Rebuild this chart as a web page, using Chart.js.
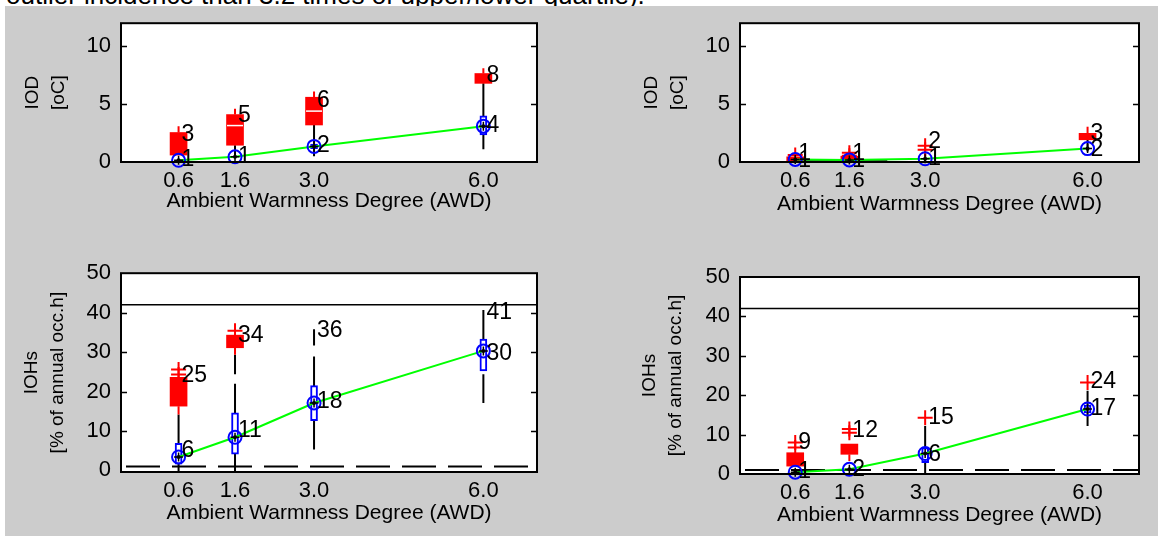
<!DOCTYPE html>
<html>
<head>
<meta charset="utf-8">
<title>IOD / IOHs vs AWD</title>
<script src="https://cdn.jsdelivr.net/npm/chart.js@4.4.0/dist/chart.umd.min.js"></script>
<style>
  body { margin: 0; width: 1158px; height: 536px; background: #fff; position: relative; overflow: hidden;
         font-family: "Liberation Sans", Arial, sans-serif; }
  #cap { position: absolute; left: 6px; top: -18px; font-size: 26px; line-height: 26px; white-space: nowrap; color: #000; }
  #bg { position: absolute; left: 5px; top: 6px; width: 1153px; height: 530px; background: #cccccc; }
  canvas { position: absolute; }
</style>
</head>
<body>
<div id="cap">outlier incidence than 3.2 times of upper/lower quartile).</div>
<div id="bg"></div>
<canvas id="tl" width="580" height="250" style="left:0;top:0"></canvas>
<canvas id="tr" width="578" height="250" style="left:580px;top:0"></canvas>
<canvas id="bl" width="580" height="286" style="left:0;top:250px"></canvas>
<canvas id="br" width="578" height="286" style="left:580px;top:250px"></canvas>
<script>
// x categories (AWD) and ticks
const awd = [0.6, 1.6, 3.0, 6.0];
const xTicks = [0.6, 1.6, 3.0, 6.0];
const iodTicks = [0, 5, 10];
const iohTicks = [0, 10, 20, 30, 40, 50];

// top left - IOD
const tlMedian = [0.15, 0.45, 1.35, 3.1];
const tlRedLow = [0.6, 1.45, 3.2, 6.8];
const tlRedHigh = [2.55, 4.1, 5.6, 7.65];
const tlRedMid = [null, 3.15, 4.4, null];
const tlRedTop = [3.1, 4.6, 6.1, 8.1];
const tlRedBottom = [null, null, null, null];
const tlPlus = [];
const tlWhiskers = [[1.6, 0.45, 1.45], [3.0, 0.5, 3.2], [6.0, 1.1, 6.8]];
const tlBlueLow = [null, null, 1.15, 2.35];
const tlBlueHigh = [null, null, 1.55, 4.0];
const tlTopAt = [2.4, 4.0, 5.3, 7.5];
const tlTopTxt = ['3', '5', '6', '8'];
const tlBotAt = [0.2, 0.45, 1.4, 3.1];
const tlBotTxt = ['1', '1', '2', '4'];

// top right - IOD
const trMedian = [0.22, 0.18, 0.28, 1.16];
const trRedLow = [0.05, 0.1, null, 1.92];
const trRedHigh = [0.45, 0.5, null, 2.48];
const trRedMid = [null, null, null, null];
const trRedTop = [null, null, null, 3.05];
const trRedBottom = [null, null, null, null];
const trPlus = [[0.6, 0.6], [1.6, 0.8], [1.6, 0.55], [3.0, 1.4], [3.0, 1.05]];
const trWhiskers = [[3.0, 0.0, 0.75], [6.0, 0.9, 1.92]];
const trFloorX = [0.6, 2.3];
const trFloorY = [0.07, 0.07];
const trBlueLow = [null, null, null, null];
const trBlueHigh = [null, null, null, null];
const trTopAt = [0.7, 0.75, 1.72, 2.43];
const trTopTxt = ['1', '1', '2', '3'];
const trBotAt = [0.1, 0.1, 0.3, 1.1];
const trBotTxt = ['1', '1', '1', '2'];

// bottom left - IOHs
const blMedian = [3.4, 8.4, 17.1, 30.3];
const blRedLow = [16.3, 31.1, null, null];
const blRedHigh = [23.6, 34.3, null, null];
const blRedMid = [null, null, null, null];
const blRedTop = [null, null, null, null];
const blRedBottom = [14.2, 29.3, null, null];
const blPlus = [[0.6, 25.6], [0.6, 24.3], [1.6, 35.4]];
const blWhiskers = [[0.6, -0.4, 14.2], [1.6, -0.4, 22.0], [1.6, 24.4, 29.3],
                    [3.0, 5.3, 28.9], [3.0, 31.7, 35.8], [6.0, 25.2, 40.7], [6.0, 17.1, 24.4]];
const blBlueLow = [1.6, 4.1, 12.6, 25.2];
const blBlueHigh = [6.9, 14.6, 21.5, 33.3];
const blTopAt = [24.0, 34.1, 35.4, 40.0];
const blTopTxt = ['25', '34', '36', '41'];
const blBotAt = [4.9, 10.0, 17.5, 29.7];
const blBotTxt = ['6', '11', '18', '30'];

// bottom right - IOHs
const brMedian = [0.45, 1.2, 5.2, 16.5];
const brRedLow = [2.0, 5.0, null, null];
const brRedHigh = [5.4, 7.6, null, null];
const brRedMid = [null, null, null, null];
const brRedTop = [null, null, null, null];
const brRedBottom = [null, 3.3, null, null];
const brPlus = [[0.6, 6.7], [0.6, 8.0], [1.6, 10.5], [1.6, 11.4], [3.0, 14.3], [6.0, 23.2]];
const brWhiskers = [[3.0, 0.0, 12.2], [6.0, 12.2, 21.1]];
const brBlueLow = [null, null, 2.9, 15.5];
const brBlueHigh = [null, null, 6.7, 17.5];
const brTopAt = [8.0, 11.1, 14.3, 23.4];
const brTopTxt = ['9', '12', '15', '24'];
const brBotAt = [0.6, 1.2, 4.8, 16.7];
const brBotTxt = ['1', '2', '6', '17'];

// reference lines (IOHs panels)
const upperRef = 42;
const lowerRef = 1;

const xMin = -0.42, xMax = 6.95;

Chart.defaults.font.family = '"Liberation Sans", Arial, sans-serif';
Chart.defaults.color = '#000';

function segs(list) {
    return list.flatMap(s => [{x: s[0], y: s[1]}, {x: s[0], y: s[2]}, {x: s[0], y: null}]);
}
function spans(lo, hi) {
    return awd.map((x, i) => [x, lo[i], hi[i]]).filter(s => s[1] != null && s[2] != null);
}
function boxes(lo, hi) {
    return spans(lo, hi).map(s => ({x: s[0], y: [s[1], s[2]]}));
}
function pts(vals) {
    return awd.map((x, i) => ({x: x, y: vals[i]})).filter(p => p.y != null);
}

const numLabels = {
    id: 'numLabels',
    afterDatasetsDraw(chart, args, opts) {
        const {ctx, scales: {x, y}} = chart;
        ctx.save();
        ctx.font = '23px "Liberation Sans", Arial, sans-serif';
        ctx.fillStyle = '#000';
        ctx.textAlign = 'left';
        ctx.textBaseline = 'middle';
        opts.items.forEach(it => ctx.fillText(it.text, x.getPixelForValue(it.x) + 3, y.getPixelForValue(it.y)));
        ctx.restore();
    }
};

const frame = {
    id: 'frame',
    beforeDraw(chart) {
        const a = chart.chartArea, ctx = chart.ctx;
        ctx.save();
        ctx.fillStyle = '#fff';
        ctx.fillRect(a.left, a.top, a.right - a.left, a.bottom - a.top);
        ctx.restore();
    },
    afterDraw(chart) {
        const a = chart.chartArea, ctx = chart.ctx, ys = chart.scales.y;
        ctx.save();
        ctx.strokeStyle = '#000';
        ctx.lineWidth = 1.5;
        ys.ticks.forEach(t => {
            const py = Math.round(ys.getPixelForValue(t.value)) + 0.5;
            if (py <= a.top + 2 || py >= a.bottom - 2) return;
            ctx.beginPath();
            ctx.moveTo(a.left, py); ctx.lineTo(a.left + 6, py);
            ctx.moveTo(a.right, py); ctx.lineTo(a.right - 6, py);
            ctx.stroke();
        });
        ctx.lineWidth = 2;
        ctx.strokeRect(a.left, a.top, a.right - a.left, a.bottom - a.top);
        ctx.restore();
    }
};

function panel(id, p) {
    const ds = [];
    if (p.refs) {
        ds.push({type: 'line', data: [{x: xMin, y: upperRef}, {x: xMax, y: upperRef}],
                 borderColor: '#000', borderWidth: 1.5, pointRadius: 0, showLine: true});
        ds.push({type: 'line', data: [{x: xMin, y: lowerRef}, {x: xMax, y: lowerRef}],
                 borderColor: '#000', borderWidth: 2, borderDash: [34, 12], borderDashOffset: -5,
                 pointRadius: 0, showLine: true});
    }
    if (p.floorX) {
        ds.push({type: 'line', data: p.floorX.map((x, i) => ({x: x, y: p.floorY[i]})),
                 borderColor: '#000', borderWidth: 2, pointRadius: 0, showLine: true});
    }
    ds.push({type: 'line', data: segs(p.whiskers), borderColor: '#000', borderWidth: 2,
             pointRadius: 0, showLine: true, spanGaps: false});
    const redSegs = spans(p.redHigh, p.redTop).concat(spans(p.redBottom, p.redLow));
    ds.push({type: 'line', data: segs(redSegs), borderColor: '#f00', borderWidth: 2,
             pointRadius: 0, showLine: true, spanGaps: false});
    ds.push({type: 'bar', data: boxes(p.redLow, p.redHigh), backgroundColor: '#f00', borderWidth: 0,
             barThickness: 17, grouped: false});
    ds.push({type: 'scatter', data: pts(p.redMid), pointStyle: 'line', pointRadius: 8,
             borderColor: '#fff', borderWidth: 1.5});
    ds.push({type: 'scatter', data: p.plus.map(q => ({x: q[0], y: q[1]})), pointStyle: 'cross',
             pointRadius: 7.5, borderColor: '#f00', borderWidth: 2});
    ds.push({type: 'bar', data: boxes(p.blueLow, p.blueHigh), backgroundColor: '#fff',
             borderColor: '#00f', borderWidth: 2, borderSkipped: false, barThickness: 7, grouped: false});
    ds.push({type: 'line', data: pts(p.median), borderColor: '#00ff00', borderWidth: 2,
             pointRadius: 0, showLine: true});
    ds.push({type: 'scatter', data: pts(p.median), pointStyle: 'circle', pointRadius: 6.5,
             borderColor: '#00f', borderWidth: 2, backgroundColor: 'rgba(0,0,0,0)'});
    ds.push({type: 'scatter', data: pts(p.median), pointStyle: 'cross', pointRadius: 4.5,
             borderColor: '#000', borderWidth: 1.5});
    ds.push({type: 'scatter', data: pts(p.median), pointStyle: 'circle', pointRadius: 2,
             borderColor: '#000', borderWidth: 0, backgroundColor: '#000'});
    ds.forEach((d, i) => { d.order = ds.length - i; d.clip = false; });

    const items = awd.map((x, i) => ({x: x, y: p.topAt[i], text: p.topTxt[i]}))
        .concat(awd.map((x, i) => ({x: x, y: p.botAt[i], text: p.botTxt[i]})));

    new Chart(document.getElementById(id), {
        type: 'scatter',
        data: {datasets: ds},
        plugins: [frame, numLabels],
        options: {
            responsive: false,
            devicePixelRatio: 1,
            animation: false,
            layout: {padding: {left: 0, right: p.padRight, top: p.padTop, bottom: 0}},
            plugins: {legend: {display: false}, tooltip: {enabled: false}, numLabels: {items: items}},
            scales: {
                x: {
                    type: 'linear', min: xMin, max: xMax, offset: false,
                    grid: {display: false, drawTicks: false}, border: {display: false},
                    ticks: {font: {size: 22}, color: '#000', padding: p.xTickPad, autoSkip: false,
                            maxRotation: 0, callback: v => Number(v).toFixed(1)},
                    afterBuildTicks: s => { s.ticks = xTicks.map(v => ({value: v})); },
                    title: {display: true, text: 'Ambient Warmness Degree (AWD)', color: '#000',
                            font: {size: 21}, padding: {top: 0, bottom: p.xTitlePad}},
                    afterFit: s => { s.height = p.xHeight; }
                },
                y: {
                    type: 'linear', min: p.yMin, max: p.yMax,
                    grid: {display: false, drawTicks: false}, border: {display: false},
                    ticks: {font: {size: 22}, color: '#000', padding: 10},
                    afterBuildTicks: s => { s.ticks = p.yTicks.map(v => ({value: v})); },
                    title: {display: true, text: p.yTitle, color: '#000',
                            font: {size: 19, lineHeight: 26 / 19}, padding: {top: p.yTitlePad, bottom: 0}},
                    afterFit: s => { s.width = p.yWidth; }
                }
            }
        }
    });
}

panel('tl', {
    median: tlMedian, redLow: tlRedLow, redHigh: tlRedHigh, redMid: tlRedMid, redTop: tlRedTop,
    redBottom: tlRedBottom, plus: tlPlus, whiskers: tlWhiskers, blueLow: tlBlueLow, blueHigh: tlBlueHigh,
    topAt: tlTopAt, topTxt: tlTopTxt, botAt: tlBotAt, botTxt: tlBotTxt,
    yMin: 0, yMax: 12, yTicks: iodTicks, yTitle: ['IOD', '[oC]'],
    padRight: 43, padTop: 23, yWidth: 121, xHeight: 88, xTickPad: 6, xTitlePad: 36, yTitlePad: 20
});
panel('tr', {
    median: trMedian, redLow: trRedLow, redHigh: trRedHigh, redMid: trRedMid, redTop: trRedTop,
    redBottom: trRedBottom, plus: trPlus, whiskers: trWhiskers, blueLow: trBlueLow, blueHigh: trBlueHigh,
    floorX: trFloorX, floorY: trFloorY,
    topAt: trTopAt, topTxt: trTopTxt, botAt: trBotAt, botTxt: trBotTxt,
    yMin: 0, yMax: 12, yTicks: iodTicks, yTitle: ['IOD', '[oC]'],
    padRight: 19, padTop: 23, yWidth: 160, xHeight: 88, xTickPad: 6, xTitlePad: 33, yTitlePad: 59
});
panel('bl', {
    median: blMedian, redLow: blRedLow, redHigh: blRedHigh, redMid: blRedMid, redTop: blRedTop,
    redBottom: blRedBottom, plus: blPlus, whiskers: blWhiskers, blueLow: blBlueLow, blueHigh: blBlueHigh,
    topAt: blTopAt, topTxt: blTopTxt, botAt: blBotAt, botTxt: blBotTxt, refs: true,
    yMin: -0.4, yMax: 50, yTicks: iohTicks, yTitle: ['IOHs', '[% of annual occ.h]'],
    padRight: 43, padTop: 15, yWidth: 121, xHeight: 64, xTickPad: 6, xTitlePad: 10, yTitlePad: 19
});
panel('br', {
    median: brMedian, redLow: brRedLow, redHigh: brRedHigh, redMid: brRedMid, redTop: brRedTop,
    redBottom: brRedBottom, plus: brPlus, whiskers: brWhiskers, blueLow: brBlueLow, blueHigh: brBlueHigh,
    topAt: brTopAt, topTxt: brTopTxt, botAt: brBotAt, botTxt: brBotTxt, refs: true,
    yMin: 0, yMax: 50, yTicks: iohTicks, yTitle: ['IOHs', '[% of annual occ.h]'],
    padRight: 19, padTop: 27, yWidth: 160, xHeight: 62, xTickPad: 6, xTitlePad: 8, yTitlePad: 57
});
</script>
</body>
</html>
